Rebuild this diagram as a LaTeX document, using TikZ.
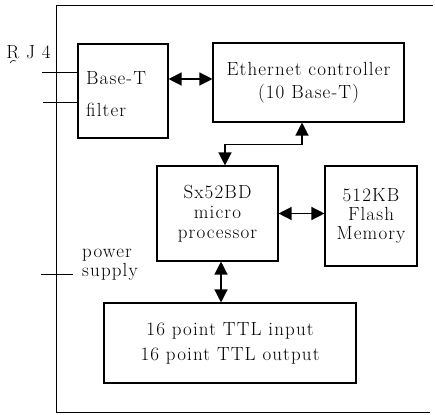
\documentclass[tikz,border=0pt]{standalone}
\usepackage{fontspec}
\setmainfont{Latin Modern Roman}[LetterSpace=6]
\usetikzlibrary{arrows.meta}
\begin{document}
\begin{tikzpicture}[x=1pt,y=-1pt,
  box/.style={draw, line width=1.1pt, inner sep=0pt, align=center,
    font=\fontsize{19}{23}\selectfont},
  txt/.style={inner sep=0pt, font=\fontsize{19}{23}\selectfont},
  biarrow/.style={{Triangle[length=13pt,width=13pt]}-{Triangle[length=13pt,width=13pt]}, line width=1.3pt},
  wire/.style={line width=1pt}]
\useasboundingbox (0,0) rectangle (435,414);
% outer frame
\coordinate (ftr) at (433,5);
\coordinate (ftl) at (56,5);
\coordinate (fbl) at (56,412);
\coordinate (fbr) at (430,412);
\draw[line width=0.9pt] (ftr) -- (ftl) -- (fbl) -- (fbr);
% boxes
\node[box, minimum width=90, minimum height=94] (filter) at (123,91) {};
\node[txt, anchor=west, align=left] (filtertxt) at (86,94) {Base-T\\[9pt]filter};
\node[box, minimum width=191, minimum height=79] (eth) at (308.5,82.5)
  {Ethernet\ controller\\(10\ Base-T)};
\node[box, minimum width=121, minimum height=95, font=\fontsize{19}{20}\selectfont] (mcu) at (217.5,213.5)
  {Sx52BD\\micro\\processor};
\node[box, minimum width=92, minimum height=100, font=\fontsize{19}{19}\selectfont] (flash) at (371,216)
  {512KB\\Flash\\Memory};
\node[box, minimum width=252, minimum height=80, font=\fontsize{19}{25}\selectfont] (ttl) at (230,343)
  {16\ point\ TTL\ input\\16\ point\ TTL\ output};
% labels
\node[txt] (rj) at (28.5,52) {R\ J\ 4};
\node[txt, anchor=west, align=left, font=\fontsize{19}{19}\selectfont] (pw) at (82,265) {power\\supply};
\draw[line width=0.6pt] (10,63) .. controls (12,60) and (14,60) .. (16,61);
% external wires
\draw[wire] ([yshift=18pt]filter.west) -- ++(-35,0) coordinate (rja);
\draw[wire] ([yshift=-12pt]filter.west) -- ++(-34,0) coordinate (rjb);
\coordinate (psa) at (41,274);
\coordinate (psb) at (73,274);
\draw[wire] (psa) -- (psb);
% arrows
\draw[biarrow] ([yshift=3.5pt]eth.west -| filter.east) -- ([yshift=3.5pt]eth.west);
\draw[biarrow] ([xshift=-6.5pt]eth.south) -- ++(0,22) -| ([xshift=7.5pt]mcu.north);
\draw[biarrow] (mcu.east) -- (flash.west |- mcu.east);
\draw[biarrow] ([xshift=3.5pt]mcu.south) -- ([xshift=3.5pt]mcu.south |- ttl.north);
\end{tikzpicture}
\end{document}
